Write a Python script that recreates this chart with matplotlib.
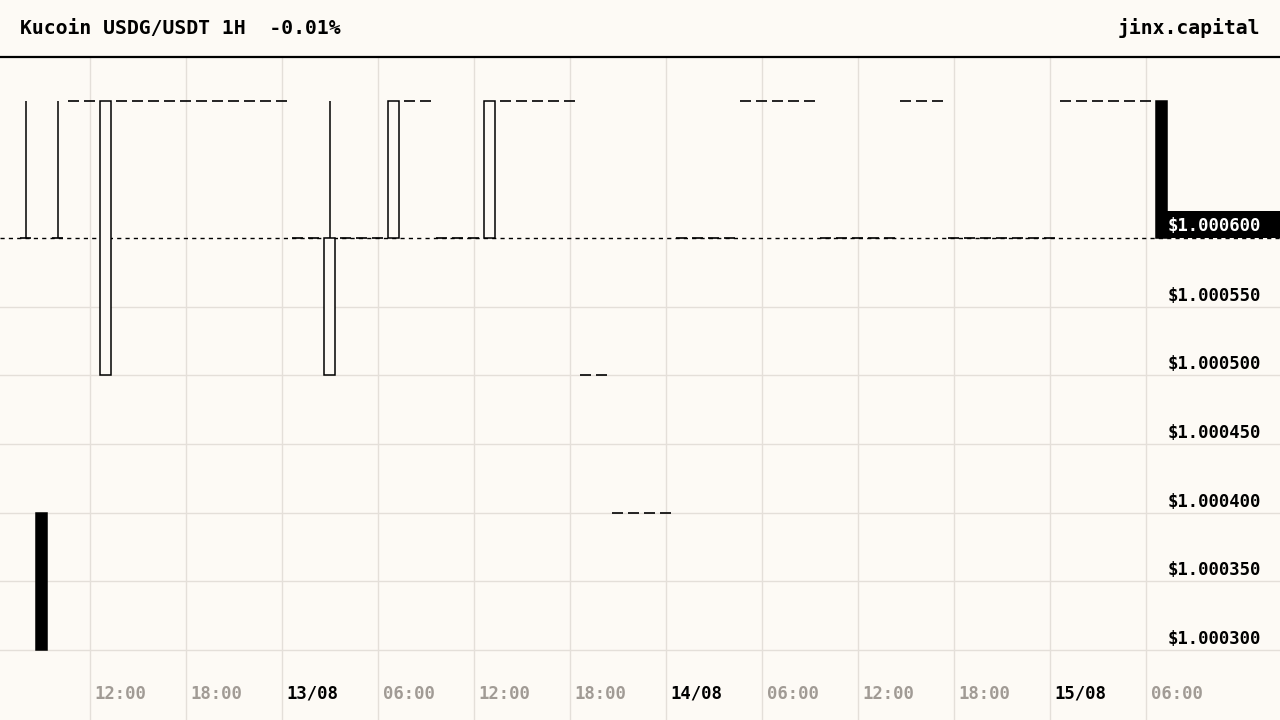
import matplotlib
matplotlib.use("Agg")
import matplotlib.pyplot as plt
import matplotlib.dates as mdates
import matplotlib.transforms as mtransforms
from matplotlib.patches import Rectangle
import pandas as pd

plt.rcParams['font.family'] = ['DejaVu Sans Mono']
plt.rcParams['lines.scale_dashes'] = False

bg = '#fdfaf5'
grid_c = '#e4dfd9'
grey_c = '#a19b95'

title = 'Kucoin USDG/USDT 1H  -0.01%'
brand = 'jinx.capital'

# hourly candles, 12/08 08:00 .. 15/08 07:00
times = pd.date_range('2025-08-12 08:00', periods=72, freq='h')
opens = [
    1.0006, 1.0004, 1.0006, 1.0007, 1.0007, 1.0005, 1.0007, 1.0007, 1.0007, 1.0007, 1.0007, 1.0007,
    1.0007, 1.0007, 1.0007, 1.0007, 1.0007, 1.0006, 1.0006, 1.0005, 1.0006, 1.0006, 1.0006, 1.0006,
    1.0007, 1.0007, 1.0006, 1.0006, 1.0006, 1.0006, 1.0007, 1.0007, 1.0007, 1.0007, 1.0007, 1.0005,
    1.0005, 1.0004, 1.0004, 1.0004, 1.0004, 1.0006, 1.0006, 1.0006, 1.0006, 1.0007, 1.0007, 1.0007,
    1.0007, 1.0007, 1.0006, 1.0006, 1.0006, 1.0006, 1.0006, 1.0007, 1.0007, 1.0007, 1.0006, 1.0006,
    1.0006, 1.0006, 1.0006, 1.0006, 1.0006, 1.0007, 1.0007, 1.0007, 1.0007, 1.0007, 1.0007, 1.0007,
]
closes = [
    1.0006, 1.0003, 1.0006, 1.0007, 1.0007, 1.0007, 1.0007, 1.0007, 1.0007, 1.0007, 1.0007, 1.0007,
    1.0007, 1.0007, 1.0007, 1.0007, 1.0007, 1.0006, 1.0006, 1.0006, 1.0006, 1.0006, 1.0006, 1.0007,
    1.0007, 1.0007, 1.0006, 1.0006, 1.0006, 1.0007, 1.0007, 1.0007, 1.0007, 1.0007, 1.0007, 1.0005,
    1.0005, 1.0004, 1.0004, 1.0004, 1.0004, 1.0006, 1.0006, 1.0006, 1.0006, 1.0007, 1.0007, 1.0007,
    1.0007, 1.0007, 1.0006, 1.0006, 1.0006, 1.0006, 1.0006, 1.0007, 1.0007, 1.0007, 1.0006, 1.0006,
    1.0006, 1.0006, 1.0006, 1.0006, 1.0006, 1.0007, 1.0007, 1.0007, 1.0007, 1.0007, 1.0007, 1.0006,
]
highs = [
    1.0007, 1.0004, 1.0007, 1.0007, 1.0007, 1.0007, 1.0007, 1.0007, 1.0007, 1.0007, 1.0007, 1.0007,
    1.0007, 1.0007, 1.0007, 1.0007, 1.0007, 1.0006, 1.0006, 1.0007, 1.0006, 1.0006, 1.0006, 1.0007,
    1.0007, 1.0007, 1.0006, 1.0006, 1.0006, 1.0007, 1.0007, 1.0007, 1.0007, 1.0007, 1.0007, 1.0005,
    1.0005, 1.0004, 1.0004, 1.0004, 1.0004, 1.0006, 1.0006, 1.0006, 1.0006, 1.0007, 1.0007, 1.0007,
    1.0007, 1.0007, 1.0006, 1.0006, 1.0006, 1.0006, 1.0006, 1.0007, 1.0007, 1.0007, 1.0006, 1.0006,
    1.0006, 1.0006, 1.0006, 1.0006, 1.0006, 1.0007, 1.0007, 1.0007, 1.0007, 1.0007, 1.0007, 1.0007,
]
lows = [
    1.0006, 1.0003, 1.0006, 1.0007, 1.0007, 1.0005, 1.0007, 1.0007, 1.0007, 1.0007, 1.0007, 1.0007,
    1.0007, 1.0007, 1.0007, 1.0007, 1.0007, 1.0006, 1.0006, 1.0005, 1.0006, 1.0006, 1.0006, 1.0006,
    1.0007, 1.0007, 1.0006, 1.0006, 1.0006, 1.0006, 1.0007, 1.0007, 1.0007, 1.0007, 1.0007, 1.0005,
    1.0005, 1.0004, 1.0004, 1.0004, 1.0004, 1.0006, 1.0006, 1.0006, 1.0006, 1.0007, 1.0007, 1.0007,
    1.0007, 1.0007, 1.0006, 1.0006, 1.0006, 1.0006, 1.0006, 1.0007, 1.0007, 1.0007, 1.0006, 1.0006,
    1.0006, 1.0006, 1.0006, 1.0006, 1.0006, 1.0007, 1.0007, 1.0007, 1.0007, 1.0007, 1.0007, 1.0006,
]
last_price = 1.0006
price_ticks = [1.00030, 1.00035, 1.00040, 1.00045, 1.00050, 1.00055]
time_ticks = pd.date_range('2025-08-12 12:00', '2025-08-15 06:00', freq='6h')

fig = plt.figure(figsize=(12.8, 7.2), dpi=100, facecolor=bg)
ax = fig.add_axes([0, 0, 1, 663 / 720])
ax.set_facecolor(bg)

x0 = mdates.date2num(pd.Timestamp('2025-08-12 06:23:30'))
ax.set_xlim(x0, x0 + 80 / 24)
ax.set_ylim(1.000249, 1.0007318)
ax.set_xticks([])
ax.set_yticks([])
for s in ['left', 'right', 'bottom', 'top']:
    ax.spines[s].set_visible(False)

# grid
for t in time_ticks:
    ax.axvline(mdates.date2num(t), color=grid_c, lw=1, zorder=0)
for p in price_ticks:
    ax.axhline(p, color=grid_c, lw=1, zorder=0)

# candles
w = 0.72 / 24
xs = mdates.date2num(times)
for x, o, h, l, c in zip(xs, opens, highs, lows, closes):
    if h != max(o, c) or l != min(o, c):
        ax.vlines(x, l, h, color='black', lw=1.1, zorder=3)
    if o == c:
        ax.hlines(o, x - w / 2, x + w / 2, color='black', lw=1.2, zorder=3)
    else:
        fc = bg if c > o else 'black'
        ax.add_patch(Rectangle((x - w / 2, min(o, c)), w, abs(c - o),
                               facecolor=fc, edgecolor='black', lw=1.1, zorder=4))

# last price line + tag
ax.axhline(last_price, color='black', lw=1, ls=(0, (3, 3)), zorder=2)
trans_y = mtransforms.blended_transform_factory(ax.transAxes, ax.transData)
ax.add_patch(Rectangle((1160 / 1280, last_price), 1 - 1160 / 1280, 0.0000197,
                       transform=trans_y, facecolor='black', edgecolor='none', zorder=5))
ax.annotate('$%.6f' % last_price, xy=(1168 / 1280, last_price), xycoords=trans_y,
            xytext=(0, 7), textcoords='offset pixels', ha='left', va='baseline',
            color='white', fontsize=12.4, fontweight='bold', zorder=6)

# price labels
for p in price_ticks:
    ax.annotate('$%.6f' % p, xy=(1168 / 1280, p), xycoords=trans_y,
                xytext=(0, 6), textcoords='offset pixels', ha='left', va='baseline',
                color='black', fontsize=12.4, fontweight='bold', zorder=6)

# time labels
trans_x = mtransforms.blended_transform_factory(ax.transData, ax.transAxes)
for t in time_ticks:
    if t.hour == 0:
        lab, col = t.strftime('%d/%m'), 'black'
    else:
        lab, col = t.strftime('%H:%M'), grey_c
    ax.annotate(lab, xy=(mdates.date2num(t), 26 / 663), xycoords=trans_x,
                xytext=(5, 0), textcoords='offset pixels', ha='left', va='center',
                color=col, fontsize=12.4, fontweight='bold')

# header
fig.add_artist(plt.Line2D([0, 1], [1 - 57 / 720, 1 - 57 / 720], color='black', lw=1.6))
fig.text(20 / 1280, 1 - 28 / 720, title, ha='left', va='center',
         fontsize=14.2, fontweight='bold', color='black')
fig.text(1 - 20 / 1280, 1 - 28 / 720, brand, ha='right', va='center',
         fontsize=14.2, fontweight='bold', color='black')

fig.savefig('out.png', dpi=100, facecolor=bg)
